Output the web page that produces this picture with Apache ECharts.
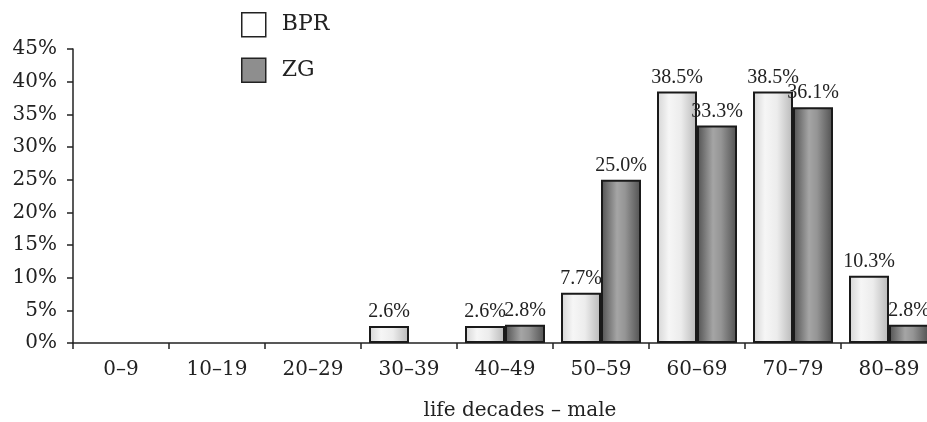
<!DOCTYPE html>
<html>
<head>
<meta charset="utf-8">
<script src="https://cdn.jsdelivr.net/npm/echarts@6/dist/echarts.min.js"></script>
<style>html,body{margin:0;padding:0;background:#fff;overflow:hidden;width:927px;height:422px}#c{width:937px;height:422px}</style>
</head>
<body>
<div id="c"></div>
<script>
const categories = ['0–9','10–19','20–29','30–39','40–49','50–59','60–69','70–79','80–89'];
const bprValues = [0, 0, 0, 2.6, 2.6, 7.7, 38.5, 38.5, 10.3];
const zgValues = [0, 0, 0, 0, 2.8, 25.0, 33.3, 36.1, 2.8];
const yTicks = [0, 5, 10, 15, 20, 25, 30, 35, 40, 45];
const seriesNames = ['BPR', 'ZG'];
const axisTitle = 'life decades – male';

const chart = echarts.init(document.getElementById('c'));
const axisFont = 'DejaVu Serif';
const labelFont = 'Liberation Serif';
function grad(stops){
  return {type:'linear', x:0, y:0, x2:1, y2:0, colorStops: stops.map(s=>({offset:s[0], color:s[1]}))};
}
const toData = arr => arr.map(v => v === 0 ? '-' : v);
const lbl = {
  show:true, position:'top', distance:4,
  fontFamily: labelFont, fontSize: 20, color:'#222',
  formatter: p => (typeof p.value === 'number' && p.value > 0) ? p.value.toFixed(1) + '%' : ''
};
chart.setOption({
  animation:false,
  backgroundColor:'#fff',
  title:{
    text: axisTitle, left: 515, top: 396, textAlign:'center',
    textStyle:{fontFamily: axisFont, fontSize: 20, fontWeight:'normal', color:'#222'}
  },
  legend:{
    orient:'vertical', left: 236, top: 7, itemWidth: 24, itemHeight: 24, itemGap: 20,
    icon:'rect',
    textStyle:{fontFamily: axisFont, fontSize: 22, color:'#222', padding:[0,0,0,11]},
    data:[
      {name: seriesNames[0], itemStyle:{color:'#ffffff', borderColor:'#222', borderWidth:1.5}},
      {name: seriesNames[1], itemStyle:{color:'#8e8e8e', borderColor:'#222', borderWidth:1.5}}
    ]
  },
  grid:{left:73, right:0, top:49, height:294, containLabel:false},
  xAxis:{
    type:'category', data: categories,
    axisLine:{show:true, lineStyle:{color:'#222', width:1.5}},
    axisTick:{show:true, alignWithLabel:false, length:6, lineStyle:{color:'#222', width:1.5}},
    axisLabel:{fontFamily: axisFont, fontSize: 20, color:'#222', margin: 17},
    splitLine:{show:false}
  },
  yAxis:{
    type:'value', min:0, max:45, interval:5,
    axisLine:{show:true, lineStyle:{color:'#222', width:1.5}},
    axisTick:{show:true, length:6, lineStyle:{color:'#222', width:1.5}},
    axisLabel:{fontFamily: axisFont, fontSize: 20, color:'#222', margin: 16, formatter:'{value}%'},
    splitLine:{show:false}
  },
  series:[
    {
      name: seriesNames[0], type:'bar', data: toData(bprValues), barWidth: 40, barGap:'0%',
      itemStyle:{
        color: grad([[0,'#d4d4d4'],[0.3,'#f6f6f6'],[0.6,'#ececec'],[1,'#b8b8b8']]),
        borderColor:'#1a1a1a', borderWidth:2
      },
      label: lbl
    },
    {
      name: seriesNames[1], type:'bar', data: toData(zgValues), barWidth: 40, barGap:'0%',
      itemStyle:{
        color: grad([[0,'#505050'],[0.4,'#a5a5a5'],[0.6,'#959595'],[1,'#505050']]),
        borderColor:'#1a1a1a', borderWidth:2
      },
      label: lbl
    }
  ]
});
</script>
</body>
</html>
